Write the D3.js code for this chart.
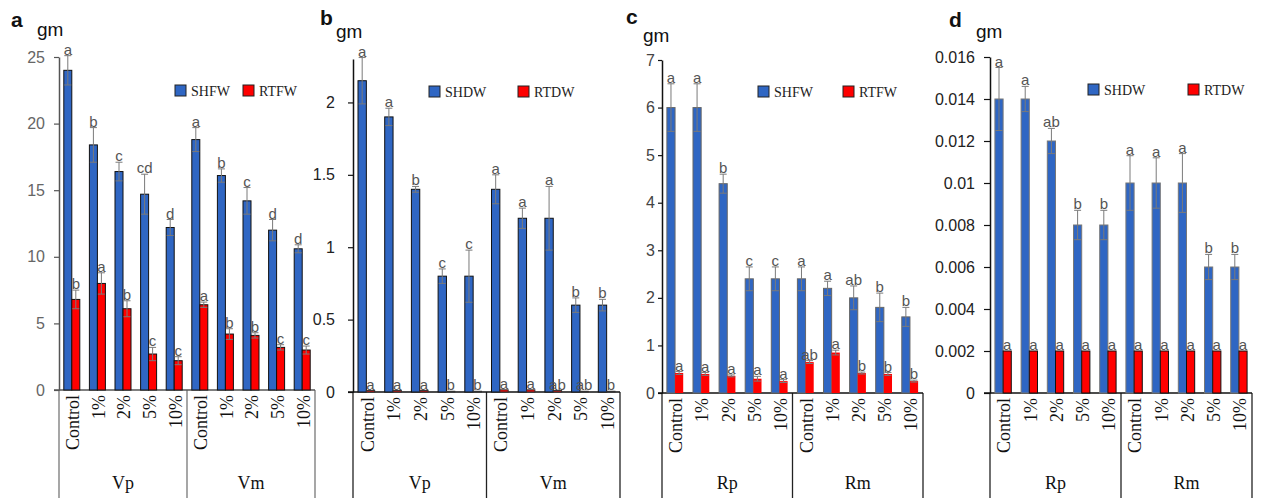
<!DOCTYPE html>
<html>
<head>
<meta charset="utf-8">
<script src="https://cdn.jsdelivr.net/npm/d3@7"></script>
<style>
  body { margin: 0; background: #fff; }
  svg { display: block; }
</style>
</head>
<body>
<svg id="chart" width="1262" height="498"></svg>
<script>
// kategorie wspólne dla wszystkich paneli
const categories = ['Control', '1%', '2%', '5%', '10%'];

// panel a - świeża masa (V)
const aGroups = ['Vp', 'Vm'];
const aLegend = ['SHFW', 'RTFW'];
const aTicks = [0, 5, 10, 15, 20, 25];
const aShoot = [24.0, 18.4, 16.4, 14.7, 12.2, 18.8, 16.1, 14.2, 12.0, 10.6];
const aShootErr = [1.1, 1.3, 0.7, 1.5, 0.6, 0.9, 0.5, 1.0, 0.8, 0.3];
const aShootSig = ['a', 'b', 'c', 'cd', 'd', 'a', 'b', 'c', 'd', 'd'];
const aRoot = [6.8, 8.0, 6.1, 2.7, 2.2, 6.4, 4.2, 4.1, 3.2, 3.0];
const aRootErr = [0.7, 0.8, 0.6, 0.5, 0.3, 0.2, 0.4, 0.2, 0.2, 0.3];
const aRootSig = ['b', 'a', 'b', 'c', 'c', 'a', 'b', 'b', 'c', 'c'];

// panel b - sucha masa (V)
const bGroups = ['Vp', 'Vm'];
const bLegend = ['SHDW', 'RTDW'];
const bTicks = [0, 0.5, 1, 1.5, 2];
const bShoot = [2.15, 1.9, 1.4, 0.8, 0.8, 1.4, 1.2, 1.2, 0.6, 0.6];
const bShootErr = [0.16, 0.06, 0.02, 0.05, 0.18, 0.1, 0.07, 0.22, 0.05, 0.04];
const bShootSig = ['a', 'a', 'b', 'c', 'c', 'a', 'a', 'a', 'b', 'b'];
const bRoot = [0.01, 0.01, 0.01, 0.005, 0.005, 0.015, 0.015, 0.01, 0.005, 0.005];
const bRootErr = [0, 0, 0, 0, 0, 0, 0, 0, 0, 0];
const bRootSig = ['a', 'a', 'a', 'b', 'b', 'a', 'a', 'ab', 'ab', 'b'];

// panel c - świeża masa (R)
const cGroups = ['Rp', 'Rm'];
const cLegend = ['SHFW', 'RTFW'];
const cTicks = [0, 1, 2, 3, 4, 5, 6, 7];
const cShoot = [6.0, 6.0, 4.4, 2.4, 2.4, 2.4, 2.2, 2.0, 1.8, 1.6];
const cShootErr = [0.5, 0.5, 0.2, 0.25, 0.25, 0.25, 0.15, 0.25, 0.3, 0.2];
const cShootSig = ['a', 'a', 'b', 'c', 'c', 'a', 'a', 'ab', 'b', 'b'];
const cRoot = [0.42, 0.4, 0.36, 0.3, 0.25, 0.65, 0.85, 0.42, 0.4, 0.25];
const cRootErr = [0.03, 0.03, 0.02, 0.05, 0.03, 0.03, 0.05, 0.02, 0.03, 0.02];
const cRootSig = ['a', 'a', 'a', 'a', 'a', 'ab', 'a', 'b', 'b', 'b'];

// panel d - sucha masa (R)
const dGroups = ['Rp', 'Rm'];
const dLegend = ['SHDW', 'RTDW'];
const dTicks = [0, 0.002, 0.004, 0.006, 0.008, 0.01, 0.012, 0.014, 0.016];
const dShoot = [0.014, 0.014, 0.012, 0.008, 0.008, 0.01, 0.01, 0.01, 0.006, 0.006];
const dShootErr = [0.0015, 0.0006, 0.0006, 0.0007, 0.0007, 0.0013, 0.0012, 0.0014, 0.0006, 0.0006];
const dShootSig = ['a', 'a', 'ab', 'b', 'b', 'a', 'a', 'a', 'b', 'b'];
const dRoot = [0.002, 0.002, 0.002, 0.002, 0.002, 0.002, 0.002, 0.002, 0.002, 0.002];
const dRootErr = [0, 0, 0, 0, 0, 0, 0, 0, 0, 0];
const dRootSig = ['a', 'a', 'a', 'a', 'a', 'a', 'a', 'a', 'a', 'a'];

const BLUE = '#2f66c3';
const RED = '#ff0000';
const SANS = '"Liberation Sans", Arial, sans-serif';
const SERIF = '"Liberation Serif", "Times New Roman", serif';

const svg = d3.select('#chart');
const H = +svg.attr('height');

function drawPanel(p) {
    const g = svg.append('g');
    const keys = [];
    p.groups.forEach(gr => categories.forEach(c => keys.push(gr + '|' + c)));

    const x = d3.scaleBand().domain(keys).range([p.left, p.right]).padding(0);
    const xSub = d3.scaleBand().domain(['s', 'r'])
        .range([0, x.bandwidth()]).paddingInner(0).paddingOuter(p.outer);
    const y = d3.scaleLinear().domain([0, p.max]).range([p.zero, p.top]);

    // ramka pod osią x
    const sepX = x(keys[categories.length]);
    [p.left, sepX, p.right].forEach(xx => {
        g.append('line')
            .attr('x1', xx).attr('x2', xx)
            .attr('y1', p.zero).attr('y2', H)
            .attr('stroke', p.frame).attr('stroke-width', 1.3);
    });

    // oś y
    const yAxis = g.append('g')
        .attr('transform', `translate(${p.left},0)`)
        .call(d3.axisLeft(y)
            .tickValues(p.ticks)
            .tickSize(p.tickSize)
            .tickSizeOuter(0)
            .tickPadding(p.tickPad)
            .tickFormat(d => String(d)));
    yAxis.select('.domain').attr('stroke', p.axis).attr('stroke-width', 1.5);
    yAxis.selectAll('.tick line').attr('stroke', p.axis).attr('stroke-width', 1.2);
    yAxis.selectAll('.tick text')
        .attr('fill', p.tickColor)
        .style('font-family', SANS)
        .style('font-size', '16px');

    // oś x
    g.append('line')
        .attr('x1', p.left - p.tickSize).attr('x2', p.right)
        .attr('y1', p.zero).attr('y2', p.zero)
        .attr('stroke', p.axis).attr('stroke-width', 1.5);

    const series = [
        { key: 's', vals: p.shoot, err: p.shootErr, sig: p.shootSig, fill: BLUE, stroke: p.shootStroke },
        { key: 'r', vals: p.root, err: p.rootErr, sig: p.rootSig, fill: RED, stroke: p.rootStroke }
    ];

    series.forEach(s => {
        const bx = (i) => x(keys[i]) + xSub(s.key);
        const bw = xSub.bandwidth();

        // słupki
        g.selectAll(null)
            .data(s.vals)
            .enter().append('rect')
            .attr('x', (d, i) => bx(i))
            .attr('y', d => y(d))
            .attr('width', bw)
            .attr('height', d => p.zero - y(d))
            .attr('fill', s.fill)
            .attr('stroke', s.stroke)
            .attr('stroke-width', 1);

        // słupki błędów
        const eg = g.selectAll(null)
            .data(s.vals)
            .enter().append('g')
            .filter((d, i) => s.err[i] > 0);
        eg.append('line')
            .attr('x1', (d, i) => bx(i) + bw / 2).attr('x2', (d, i) => bx(i) + bw / 2)
            .attr('y1', (d, i) => y(d - s.err[i])).attr('y2', (d, i) => y(d + s.err[i]))
            .attr('stroke', '#7a7a7a').attr('stroke-width', 1);
        [-1, 1].forEach(sign => {
            eg.append('line')
                .attr('x1', (d, i) => bx(i) + bw / 2 - 3.5).attr('x2', (d, i) => bx(i) + bw / 2 + 3.5)
                .attr('y1', (d, i) => y(d + sign * s.err[i])).attr('y2', (d, i) => y(d + sign * s.err[i]))
                .attr('stroke', '#7a7a7a').attr('stroke-width', 1);
        });

        // litery istotności
        g.selectAll(null)
            .data(s.vals)
            .enter().append('text')
            .attr('x', (d, i) => bx(i) + bw / 2)
            .attr('y', (d, i) => y(d + s.err[i]) - 1)
            .attr('text-anchor', 'middle')
            .attr('fill', '#555')
            .style('font-family', SANS)
            .style('font-size', '15px')
            .text((d, i) => s.sig[i]);
    });

    // etykiety kategorii (obrócone)
    g.selectAll(null)
        .data(keys)
        .enter().append('text')
        .attr('transform', k => `translate(${x(k) + x.bandwidth() / 2 + 1},${p.zero + 5}) rotate(-90)`)
        .attr('text-anchor', 'end')
        .attr('dy', '0.35em')
        .attr('fill', '#111')
        .style('font-family', SERIF)
        .style('font-size', '18px')
        .text(k => k.split('|')[1]);

    // etykiety grup
    p.groups.forEach((gr, gi) => {
        const k0 = keys[gi * categories.length];
        const k1 = keys[gi * categories.length + categories.length - 1];
        g.append('text')
            .attr('x', (x(k0) + x(k1) + x.bandwidth()) / 2)
            .attr('y', 489)
            .attr('text-anchor', 'middle')
            .attr('fill', '#111')
            .style('font-family', SERIF)
            .style('font-size', '18px')
            .text(gr);
    });

    // legenda
    p.legend.forEach((name, li) => {
        const lx = p.legX[li];
        g.append('rect')
            .attr('x', lx).attr('y', p.legY - 11)
            .attr('width', 11).attr('height', 11)
            .attr('fill', li === 0 ? BLUE : RED)
            .attr('stroke', '#222').attr('stroke-width', 1);
        g.append('text')
            .attr('x', lx + 16).attr('y', p.legY)
            .attr('fill', '#222')
            .style('font-family', SERIF)
            .style('font-size', '14px')
            .text(name);
    });

    // litera panelu i jednostka
    g.append('text')
        .attr('x', p.labX).attr('y', p.labY)
        .style('font-family', SANS).style('font-size', '21px').style('font-weight', 'bold')
        .attr('fill', '#111')
        .text(p.label);
    g.append('text')
        .attr('x', p.gmX).attr('y', p.gmY)
        .style('font-family', SANS).style('font-size', '19px')
        .attr('fill', '#111')
        .text('gm');
}

drawPanel({
    label: 'a', labX: 11, labY: 27, gmX: 37, gmY: 36,
    groups: aGroups, legend: aLegend, ticks: aTicks, max: 25,
    shoot: aShoot, shootErr: aShootErr, shootSig: aShootSig,
    root: aRoot, rootErr: aRootErr, rootSig: aRootSig,
    left: 59, right: 315, zero: 390, top: 57, outer: 0.6,
    tickSize: 5, tickPad: 9, tickColor: '#666', axis: '#555', frame: '#777',
    shootStroke: '#111', rootStroke: '#111',
    legX: [175, 243], legY: 96
});

drawPanel({
    label: 'b', labX: 320, labY: 25, gmX: 336, gmY: 38,
    groups: bGroups, legend: bLegend, ticks: bTicks, max: 2.3,
    shoot: bShoot, shootErr: bShootErr, shootSig: bShootSig,
    root: bRoot, rootErr: bRootErr, rootSig: bRootSig,
    left: 353, right: 620, zero: 392, top: 59, outer: 0.6,
    tickSize: 5, tickPad: 13, tickColor: '#222', axis: '#111', frame: '#222',
    shootStroke: '#111', rootStroke: '#333',
    legX: [429, 518], legY: 97
});

drawPanel({
    label: 'c', labX: 626, labY: 24, gmX: 643, gmY: 42,
    groups: cGroups, legend: cLegend, ticks: cTicks, max: 7,
    shoot: cShoot, shootErr: cShootErr, shootSig: cShootSig,
    root: cRoot, rootErr: cRootErr, rootSig: cRootSig,
    left: 662, right: 923, zero: 393, top: 60, outer: 0.6,
    tickSize: 4, tickPad: 3, tickColor: '#444', axis: '#111', frame: '#222',
    shootStroke: '#666', rootStroke: 'none',
    legX: [758, 843], legY: 97
});

drawPanel({
    label: 'd', labX: 949, labY: 27, gmX: 976, gmY: 38,
    groups: dGroups, legend: dLegend, ticks: dTicks, max: 0.016,
    shoot: dShoot, shootErr: dShootErr, shootSig: dShootSig,
    root: dRoot, rootErr: dRootErr, rootSig: dRootSig,
    left: 990, right: 1252, zero: 393, top: 57, outer: 0.6,
    tickSize: 6, tickPad: 9, tickColor: '#222', axis: '#111', frame: '#222',
    shootStroke: '#777', rootStroke: '#111',
    legX: [1088, 1188], legY: 95
});
</script>
</body>
</html>
